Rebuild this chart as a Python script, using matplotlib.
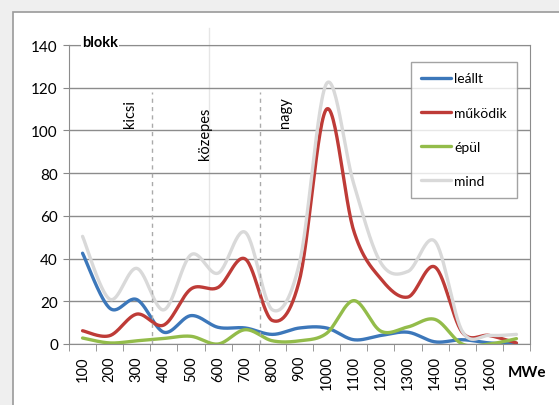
import numpy as np
import matplotlib
matplotlib.use("Agg")
import matplotlib.pyplot as plt
from matplotlib.patches import Rectangle

plt.rcParams['font.family'] = ['Lato', 'DejaVu Sans']

# adatok (MWe kategóriák, blokkok száma)
kategoriak = ["100", "200", "300", "400", "500", "600", "700", "800", "900",
              "1000", "1100", "1200", "1300", "1400", "1500", "1600", ""]
leallt = [42.5, 16.8, 20.8, 5.5, 13.3, 7.8, 7.5, 4.5, 7.5, 7.5, 2, 4, 5.5, 1, 2, 0.5, 0]
mukodik = [6.2, 3.9, 14, 8.9, 25.8, 26.5, 39.8, 11, 30, 110, 53, 30.5, 22, 36, 5.5, 4, 0.5]
epul = [2.8, 0.5, 1.5, 2.6, 3.6, 0, 6.7, 1.5, 1.5, 5, 20.3, 6, 8, 11.5, 0, 0, 2.5]
mind = [50.4, 21, 35.4, 16, 41.8, 33.2, 52.3, 16, 38, 122, 75, 38, 34, 48, 6, 4, 4.5]

sorozatok = [("leállt", leallt, "#3C77BA"),
             ("működik", mukodik, "#BE3B37"),
             ("épül", epul, "#93BC4A"),
             ("mind", mind, "#D9D9D9")]


def simitas(y, n=30):
    # Excel-szerű simított vonal (Bezier, Catmull-Rom kontrollpontok)
    y = np.asarray(y, float)
    x = np.arange(len(y), dtype=float)
    p = np.column_stack([x, y])
    ext = np.vstack([p[0], p, p[-1]])
    t = np.linspace(0, 1, n)[:, None]
    pts = []
    for i in range(len(p) - 1):
        p0, p1, p2, p3 = ext[i], ext[i + 1], ext[i + 2], ext[i + 3]
        c1 = p1 + (p2 - p0) / 6
        c2 = p2 - (p3 - p1) / 6
        seg = ((1 - t) ** 3) * p1 + 3 * ((1 - t) ** 2) * t * c1 + 3 * (1 - t) * t ** 2 * c2 + t ** 3 * p2
        pts.append(seg if i == 0 else seg[1:])
    pts = np.vstack(pts)
    return pts[:, 0], pts[:, 1]


fig = plt.figure(figsize=(5.59, 4.06), dpi=100, facecolor="#EFEFEF")
keret = Rectangle((13 / 559, -0.01), 1, 1 - 13 / 406 + 0.01, transform=fig.transFigure,
                  facecolor="white", edgecolor="#9A9A9A", lw=1.2, zorder=-5)
fig.patches.append(keret)

ax = fig.add_axes([69 / 559, 1 - 345 / 406, 461 / 559, 299 / 406])
ax.set_facecolor("white")

for nev, ertek, szin in sorozatok:
    xs, ys = simitas(ertek)
    ax.plot(xs, ys, color=szin, lw=2.4, label=nev, solid_capstyle="round")

ax.set_xlim(-0.5, len(kategoriak) - 0.5)
ax.set_ylim(0, 140)
ax.set_yticks(range(0, 141, 20))
ax.tick_params(axis="y", length=4, color="#888888", labelsize=11, pad=4)
ax.grid(axis="y", color="#8C8C8C", lw=1)
ax.set_axisbelow(True)

ax.set_xticks(range(len(kategoriak)))
ax.set_xticklabels(kategoriak, rotation=90, fontsize=10.5)
ax.tick_params(axis="x", length=0, pad=8)
ax.set_xticks(np.arange(-0.5, len(kategoriak)), minor=True)
ax.tick_params(axis="x", which="minor", length=5, color="#888888")

for s in ax.spines.values():
    s.set_color("#8C8C8C")

# kategória-határok
ax.vlines([2.55, 6.55], 0, 118, colors="#AAAAAA", linestyles=(0, (3, 3)), lw=1)
ax.plot([4.65, 4.65], [0, 148], color="#E6E6E6", lw=1, clip_on=False, zorder=0)

ax.text(1.74, 108, "kicsi", rotation=90, ha="center", va="center", fontsize=10.5)
ax.text(4.5, 99, "közepes", rotation=90, ha="center", va="center", fontsize=10.5)
ax.text(7.48, 109, "nagy", rotation=90, ha="center", va="center", fontsize=10.5)

fig.text(82 / 559, 1 - 43 / 406, "blokk", fontsize=10.5, fontweight="bold", va="center",
         bbox=dict(facecolor="white", edgecolor="none", pad=1))
fig.text(508 / 559, 1 - 373 / 406, "MWe", fontsize=11, fontweight="bold", va="center")

leg = ax.legend(loc="upper left", bbox_to_anchor=((411 - 69) / 461, (345 - 63) / 299),
                fontsize=10, frameon=True, fancybox=False, handlelength=2.1,
                handletextpad=0.25, labelspacing=1.6, borderpad=0.75, borderaxespad=0)
leg.get_frame().set_edgecolor("#8C8C8C")
leg.get_frame().set_linewidth(1)
for h in leg.get_lines():
    h.set_linewidth(2.4)

fig.savefig("out.png", dpi=100, facecolor=fig.get_facecolor())
